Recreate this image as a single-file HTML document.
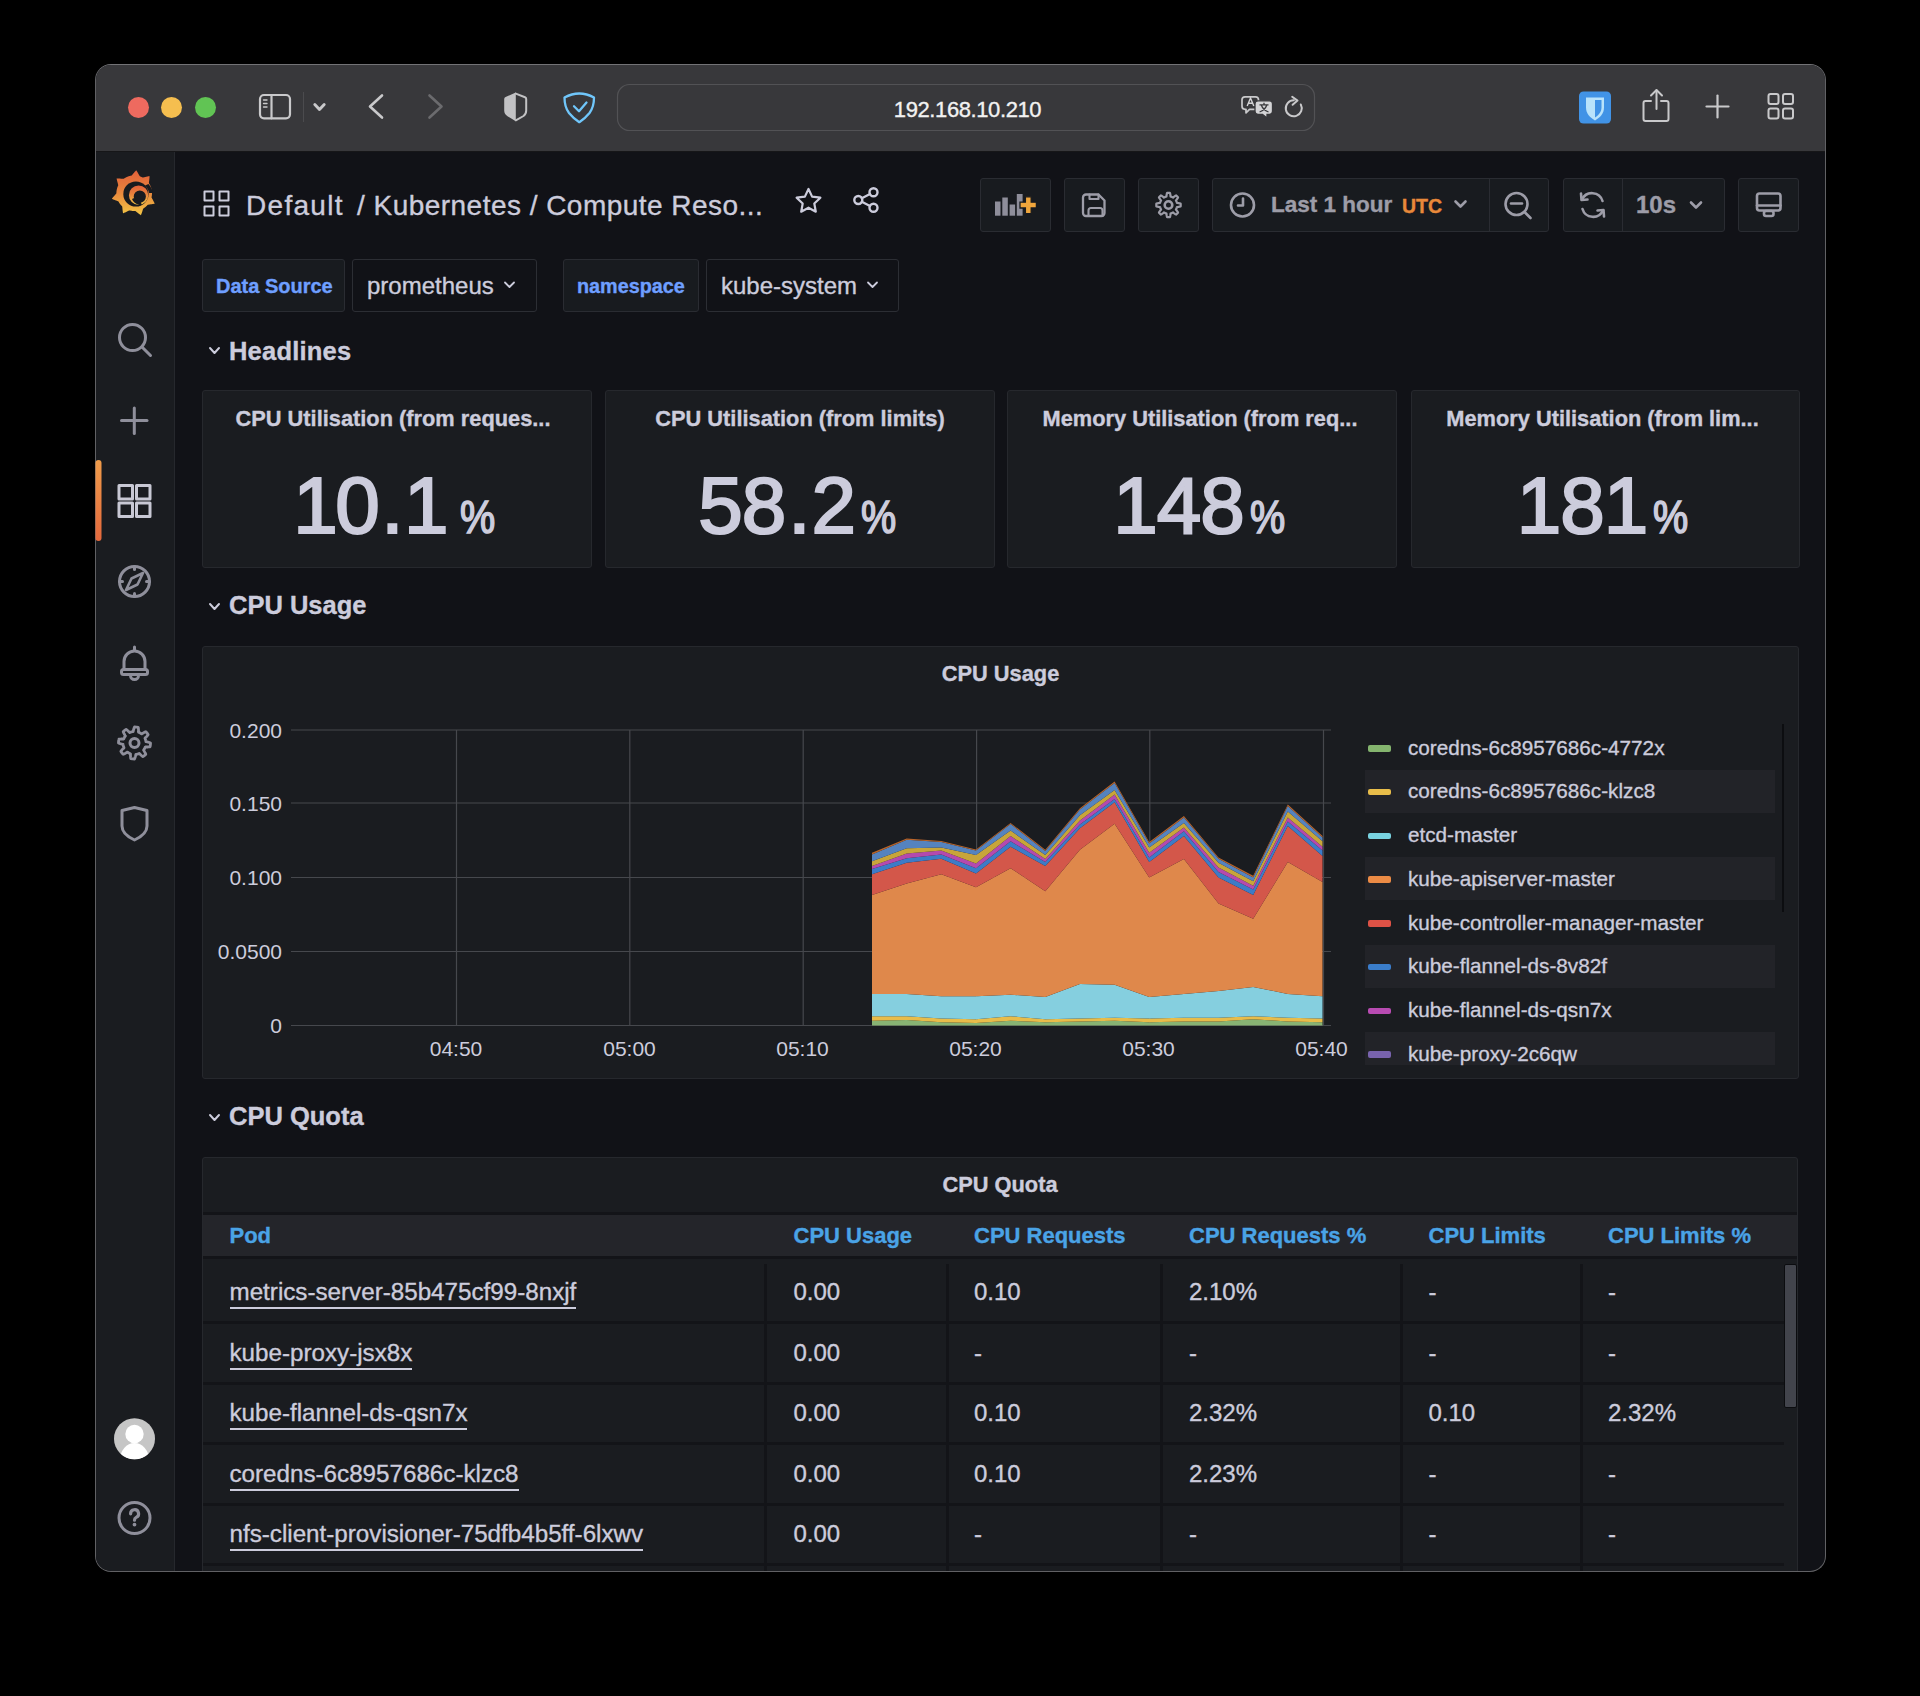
<!DOCTYPE html>
<html><head><meta charset="utf-8">
<style>
*{box-sizing:border-box;margin:0;padding:0}
html,body{width:1920px;height:1696px;background:#000;overflow:hidden;font-family:"Liberation Sans",sans-serif;color:#ccccdc;-webkit-text-stroke:0.35px currentColor}
.a{position:absolute}
#win{position:absolute;left:95px;top:64px;width:1731px;height:1508px;border-radius:16px;overflow:hidden;background:#111217;border:1px solid #616164;border-top-color:#737376}
#tb{position:absolute;left:0;top:0;width:100%;height:87px;background:#38383b;border-bottom:1px solid #161618}
.dot{position:absolute;width:21px;height:21px;border-radius:50%;top:32px}
#side{position:absolute;left:0;top:87px;width:79px;height:1420px;background:#1a1c20;border-right:1px solid #26282d}
#main{position:absolute;left:79px;top:87px;right:0;bottom:0;background:#111217}
.btn{position:absolute;top:178px;height:54px;background:#181b1f;border:1px solid #2a2c32;border-radius:3px}
.panel{position:absolute;background:#1a1c20;border:1px solid #26282d;border-radius:3px}
.ptitle{position:absolute;left:0;right:0;text-align:center;font-weight:bold;font-size:21.8px;color:#ccccdc;white-space:nowrap}
.stat{position:absolute;left:0;right:0;text-align:center;font-weight:bold;color:#ccccdc;white-space:nowrap}
.rowh{position:absolute;left:208px;font-weight:bold;font-size:26px;color:#ccccdc}
.sv{font-size:80px;font-weight:normal;-webkit-text-stroke:2.2px #ccccdc;letter-spacing:-2.5px}
.sp{display:inline-block;font-size:46px;font-weight:normal;-webkit-text-stroke:1.6px #ccccdc;transform:scaleX(0.86);transform-origin:left;margin-left:6px}
.svgi{position:absolute;overflow:visible}
</style></head><body>
<div id="win">
 <div id="tb">
  <div class="dot" style="left:31.5px;background:#ee6a5f"></div>
  <div class="dot" style="left:65px;background:#f5be4f"></div>
  <div class="dot" style="left:99px;background:#61c454"></div>
 </div>
 <div id="side"></div>
</div>

<svg class="a" style="left:0;top:0" width="1920" height="1696" viewBox="0 0 1920 1696">
 <g fill="none" stroke="#c9c9cb" stroke-width="2.2" stroke-linecap="round" stroke-linejoin="round">
  <rect x="260" y="95" width="30" height="23.3" rx="4"/>
  <line x1="271.5" y1="95" x2="271.5" y2="118.3"/>
  <line x1="263.5" y1="100" x2="267" y2="100" stroke-width="1.4"/>
  <line x1="263.5" y1="103.5" x2="267" y2="103.5" stroke-width="1.4"/>
  <line x1="263.5" y1="107" x2="267" y2="107" stroke-width="1.4"/>
  <polyline points="314.8,104.5 319.5,109.5 324.2,104.5" stroke-width="2.9"/>
  <polyline points="382,95.5 370,106.5 382,117.5" stroke-width="2.6"/>
  <polyline points="429.5,95.5 441.5,106.5 429.5,117.5" stroke="#6b6b6e" stroke-width="2.6"/>
  <path d="M515.8,93.6 L525,97.3 Q526.2,97.8 526.2,99 L526.2,110.5 Q526.2,114 523.5,116 L515.8,120.3" stroke="#c2c2c4" stroke-width="2"/>
  <path d="M564.5,97.5 Q579.3,89.5 594,97.5 Q594,107 589.5,113 Q585.5,118 579.3,122.2 Q573,118 569,113 Q564.5,107 564.5,97.5 Z" stroke="#70c6fa" stroke-width="2.3"/>
  <polyline points="574,106.2 579,111.2 586.5,102.5" stroke="#70c6fa" stroke-width="2.3"/>
 </g>
 <path d="M515.8,92.6 L515.8,121.2 L507.5,116.3 Q504.2,114 504.2,110.5 L504.2,99 Q504.2,97.6 505.6,97 Z" fill="#c2c2c4"/>
 <line x1="303.5" y1="92" x2="303.5" y2="122" stroke="#4b4b4e" stroke-width="1"/>
 <rect x="617.5" y="84.5" width="697" height="46" rx="12" fill="none" stroke="#525255" stroke-width="1.2"/>
</svg>

<svg class="a" style="left:0;top:0" width="1920" height="1696" viewBox="0 0 1920 1696">
 <g fill="none" stroke="#c9c9cb" stroke-width="2.2" stroke-linecap="round" stroke-linejoin="round">
  <!-- translate -->
  <path d="M1245,96.8 h10.5 a3,3 0 0 1 3,3 v6.5 a3,3 0 0 1 -3,3 h-6 l-3.5,3.5 v-3.5 h-1 a3,3 0 0 1 -3,-3 v-6.5 a3,3 0 0 1 3,-3 z" stroke-width="1.7"/>
  <path d="M1300.8,104.5 A8,8 0 1 1 1293.8,100.3" stroke-width="2"/>
  <polyline points="1292.2,96.8 1297.5,100.6 1292.6,104.8" stroke-width="2"/>
  <!-- share -->
  <path d="M1651,101 h-5.5 a2,2 0 0 0 -2,2 v16 a2,2 0 0 0 2,2 h21 a2,2 0 0 0 2,-2 v-16 a2,2 0 0 0 -2,-2 h-5.5" stroke-width="2"/>
  <line x1="1656.5" y1="90.5" x2="1656.5" y2="109" stroke-width="2"/>
  <polyline points="1651,95.5 1656.5,90 1662,95.5" stroke-width="2"/>
  <!-- plus -->
  <line x1="1717.5" y1="95.5" x2="1717.5" y2="117.5" stroke-width="2.2"/>
  <line x1="1706.5" y1="106.5" x2="1728.5" y2="106.5" stroke-width="2.2"/>
  <!-- grid -->
  <rect x="1768.5" y="94" width="10" height="10" rx="2" stroke-width="2"/>
  <rect x="1783" y="94" width="10" height="10" rx="2" stroke-width="2"/>
  <rect x="1768.5" y="108.5" width="10" height="10" rx="2" stroke-width="2"/>
  <rect x="1783" y="108.5" width="10" height="10" rx="2" stroke-width="2"/>
 </g>
 <path d="M1258,100.8 h11.5 a3,3 0 0 1 3,3 v7.5 a3,3 0 0 1 -3,3 h-2.5 v3.8 l-4.5,-3.8 h-4.5 a3,3 0 0 1 -3,-3 v-7.5 a3,3 0 0 1 3,-3 z" fill="#d4d4d6" stroke="#38383b" stroke-width="1.3"/>
 <path d="M1247.2,106 l3.3,-8 l3.3,8 M1248.4,103.3 h4.2" fill="none" stroke="#d4d4d6" stroke-width="1.4"/>
 <path d="M1264,102.8 v1.8 M1259.5,104.8 h9 M1261.3,105 c1,3 3.5,5.5 7.2,7 M1266.8,105 c-1,3 -3.5,5.5 -7.2,7" fill="none" stroke="#38383b" stroke-width="1.3"/>
 <!-- bitwarden -->
 <rect x="1579" y="91.5" width="32" height="32" rx="4.5" fill="#4193e6"/>
 <path d="M1586,97.5 h18 v10 c0,6 -4,10 -9,13 c-5,-3 -9,-7 -9,-13 z" fill="#b9e3fb"/>
 <path d="M1595,100 h6.5 v7.5 c0,4 -2.5,7.5 -6.5,10 z" fill="#4193e6"/>
</svg>

<svg class="a" style="left:0;top:0" width="1920" height="1696" viewBox="0 0 1920 1696">
 <defs>
  <linearGradient id="glg" x1="0" y1="0" x2="0" y2="1">
   <stop offset="0" stop-color="#e2603a"/><stop offset="0.45" stop-color="#e7823c"/><stop offset="1" stop-color="#f3c545"/>
  </linearGradient>
  <linearGradient id="act" x1="0" y1="0" x2="0" y2="1">
   <stop offset="0" stop-color="#f09c4a"/><stop offset="1" stop-color="#e4683c"/>
  </linearGradient>
 </defs>
 <!-- grafana logo -->
<g id="glogo2">
 <path fill="url(#glg)" d="M116.40,193.20 L116.40,193.04 L116.40,192.89 L116.41,192.73 L116.41,192.58 L116.42,192.42 L116.42,192.27 L116.43,192.11 L116.44,191.96 L116.45,191.80 L116.47,191.65 L116.48,191.49 L116.50,191.34 L116.51,191.18 L116.53,191.03 L116.55,190.88 L116.57,190.72 L116.60,190.57 L116.62,190.42 L116.64,190.26 L116.67,190.11 L116.70,189.96 L116.73,189.80 L116.76,189.65 L116.79,189.50 L116.82,189.35 L116.86,189.20 L116.89,189.04 L116.93,188.89 L116.97,188.74 L117.01,188.59 L117.05,188.44 L117.09,188.29 L117.13,188.14 L117.18,188.00 L117.22,187.85 L117.27,187.70 L117.32,187.55 L117.37,187.40 L117.42,187.26 L117.47,187.11 L117.53,186.97 L117.58,186.82 L117.64,186.68 L117.70,186.53 L117.75,186.39 L117.82,186.24 L117.88,186.10 L117.94,185.96 L118.00,185.82 L118.07,185.68 L118.13,185.54 L118.20,185.40 L118.21,185.23 L118.19,185.04 L118.16,184.85 L118.12,184.65 L118.07,184.44 L118.02,184.23 L117.96,184.01 L117.90,183.79 L117.84,183.56 L117.77,183.33 L117.71,183.09 L117.64,182.85 L117.57,182.61 L117.50,182.36 L117.43,182.10 L117.36,181.84 L117.29,181.58 L117.22,181.31 L117.15,181.04 L117.08,180.76 L117.02,180.48 L116.95,180.20 L116.88,179.91 L116.82,179.62 L116.76,179.33 L116.70,179.03 L116.64,178.72 L116.58,178.42 L116.89,178.42 L117.20,178.42 L117.51,178.43 L117.81,178.44 L118.11,178.45 L118.40,178.47 L118.69,178.48 L118.98,178.50 L119.26,178.52 L119.54,178.54 L119.82,178.57 L120.09,178.59 L120.36,178.61 L120.62,178.64 L120.88,178.66 L121.13,178.69 L121.38,178.71 L121.63,178.74 L121.87,178.76 L122.10,178.78 L122.33,178.80 L122.56,178.82 L122.77,178.84 L122.99,178.85 L123.19,178.85 L123.39,178.85 L123.57,178.84 L123.74,178.80 L123.86,178.71 L123.99,178.62 L124.12,178.53 L124.25,178.44 L124.38,178.36 L124.51,178.27 L124.64,178.19 L124.77,178.10 L124.90,178.02 L125.03,177.94 L125.17,177.86 L125.30,177.78 L125.43,177.71 L125.57,177.63 L125.71,177.56 L125.84,177.48 L125.98,177.41 L126.12,177.34 L126.26,177.27 L126.40,177.20 L126.54,177.13 L126.68,177.07 L126.82,177.00 L126.96,176.94 L127.10,176.88 L127.24,176.82 L127.39,176.75 L127.53,176.70 L127.68,176.64 L127.82,176.58 L127.97,176.53 L128.11,176.47 L128.26,176.42 L128.40,176.37 L128.55,176.32 L128.70,176.27 L128.85,176.22 L129.00,176.18 L129.14,176.13 L129.29,176.09 L129.44,176.05 L129.59,176.01 L129.74,175.97 L129.89,175.93 L130.04,175.89 L130.20,175.86 L130.35,175.82 L130.50,175.79 L130.65,175.76 L130.80,175.73 L130.96,175.70 L131.11,175.67 L131.26,175.64 L131.42,175.62 L131.56,175.53 L131.70,175.41 L131.84,175.27 L131.98,175.12 L132.12,174.96 L132.27,174.80 L132.41,174.63 L132.56,174.45 L132.71,174.27 L132.86,174.08 L133.02,173.89 L133.18,173.70 L133.34,173.50 L133.51,173.30 L133.67,173.10 L133.85,172.89 L134.02,172.68 L134.20,172.47 L134.38,172.26 L134.57,172.05 L134.76,171.83 L134.95,171.61 L135.15,171.39 L135.35,171.17 L135.56,170.95 L135.77,170.73 L135.99,170.51 L136.20,170.29 L136.38,170.54 L136.55,170.80 L136.72,171.06 L136.89,171.31 L137.05,171.56 L137.21,171.81 L137.36,172.06 L137.51,172.30 L137.66,172.55 L137.80,172.79 L137.94,173.03 L138.08,173.26 L138.21,173.49 L138.34,173.72 L138.47,173.95 L138.59,174.17 L138.72,174.39 L138.84,174.61 L138.95,174.82 L139.07,175.02 L139.19,175.22 L139.30,175.41 L139.41,175.60 L139.53,175.78 L139.64,175.95 L139.75,176.11 L139.87,176.26 L140.00,176.37 L140.14,176.42 L140.29,176.47 L140.43,176.53 L140.58,176.58 L140.72,176.64 L140.87,176.70 L141.01,176.75 L141.16,176.82 L141.30,176.88 L141.44,176.94 L141.58,177.00 L141.72,177.07 L141.86,177.13 L142.00,177.20 L142.14,177.27 L142.28,177.34 L142.42,177.41 L142.56,177.48 L142.73,177.50 L142.91,177.48 L143.11,177.46 L143.31,177.43 L143.52,177.39 L143.73,177.34 L143.95,177.29 L144.17,177.24 L144.40,177.18 L144.64,177.13 L144.88,177.07 L145.12,177.01 L145.37,176.95 L145.62,176.89 L145.88,176.83 L146.14,176.77 L146.40,176.71 L146.67,176.65 L146.95,176.59 L147.23,176.53 L147.51,176.47 L147.79,176.41 L148.08,176.36 L148.38,176.30 L148.67,176.25 L148.98,176.20 L149.28,176.15 L149.59,176.11 L149.58,176.42 L149.56,176.73 L149.54,177.03 L149.52,177.33 L149.50,177.63 L149.47,177.93 L149.45,178.22 L149.42,178.50 L149.39,178.79 L149.36,179.06 L149.33,179.34 L149.29,179.61 L149.26,179.87 L149.23,180.14 L149.19,180.39 L149.16,180.65 L149.13,180.90 L149.09,181.14 L149.06,181.38 L149.03,181.61 L149.00,181.84 L148.98,182.07 L148.95,182.28 L148.94,182.49 L148.92,182.70 L148.92,182.89 L148.93,183.08 L148.96,183.25 L149.04,183.38 L149.13,183.51 L149.21,183.64 L149.30,183.77 L149.38,183.90 L149.46,184.03 L149.54,184.17 L149.62,184.30 L149.69,184.43 L149.77,184.57 L149.84,184.71 L149.92,184.84 L149.99,184.98 L150.06,185.12 L150.13,185.26 L150.20,185.40 L150.27,185.54 L150.33,185.68 L150.40,185.82 L150.46,185.96 L150.52,186.10 L150.58,186.24 L150.65,186.39 L150.70,186.53 L150.76,186.68 L150.82,186.82 L150.87,186.97 L150.93,187.11 L150.98,187.26 L151.03,187.40 L151.08,187.55 L151.13,187.70 L151.18,187.85 L151.22,188.00 L151.27,188.14 L151.31,188.29 L151.35,188.44 L151.39,188.59 L151.43,188.74 L151.47,188.89 L151.51,189.04 L151.54,189.20 L151.58,189.35 L151.61,189.50 L151.64,189.65 L151.67,189.80 L151.70,189.96 L151.73,190.11 L151.76,190.26 L151.78,190.42 L151.80,190.57 L151.83,190.72 L151.85,190.88 L151.87,191.03 L151.89,191.18 L151.90,191.34 L151.92,191.49 L151.93,191.65 L151.95,191.80 L151.96,191.96 L151.97,192.11 L151.98,192.27 L151.98,192.42 L151.99,192.58 L151.99,192.73 L152.00,192.89 L152.00,193.04 L152.00,193.20 L152.00,193.36 L152.00,193.51 L151.99,193.67 L151.99,193.82 L151.98,193.98 L151.98,194.13 L151.97,194.29 L151.96,194.44 L151.95,194.60 L151.93,194.75 L151.92,194.91 L151.90,195.06 L151.89,195.22 L151.87,195.37 L151.85,195.52 L151.83,195.68 L151.80,195.83 L151.78,195.98 L151.76,196.14 L151.73,196.29 L151.70,196.44 L151.67,196.60 L151.64,196.75 L151.61,196.90 L151.58,197.05 L151.54,197.20 L151.57,197.37 L151.63,197.55 L151.71,197.73 L151.79,197.91 L151.89,198.10 L151.99,198.30 L152.09,198.50 L152.20,198.70 L152.31,198.91 L152.43,199.12 L152.54,199.34 L152.66,199.56 L152.79,199.78 L152.91,200.01 L153.04,200.24 L153.16,200.48 L153.29,200.72 L153.42,200.96 L153.55,201.21 L153.68,201.47 L153.80,201.72 L153.93,201.99 L154.06,202.25 L154.19,202.52 L154.32,202.80 L154.44,203.07 L154.57,203.36 L154.69,203.64 L154.39,203.71 L154.09,203.77 L153.79,203.83 L153.49,203.89 L153.20,203.95 L152.91,204.00 L152.62,204.05 L152.34,204.10 L152.06,204.14 L151.78,204.18 L151.50,204.22 L151.24,204.26 L150.97,204.30 L150.71,204.33 L150.45,204.37 L150.20,204.40 L149.95,204.43 L149.70,204.46 L149.46,204.50 L149.23,204.53 L149.00,204.56 L148.78,204.59 L148.56,204.63 L148.36,204.66 L148.15,204.70 L147.96,204.75 L147.79,204.80 L147.63,204.88 L147.53,204.99 L147.43,205.11 L147.32,205.23 L147.22,205.34 L147.11,205.45 L147.00,205.56 L146.90,205.68 L146.79,205.79 L146.68,205.90 L146.56,206.00 L146.45,206.11 L146.34,206.22 L146.23,206.32 L146.11,206.43 L145.99,206.53 L145.88,206.63 L145.76,206.74 L145.64,206.84 L145.52,206.93 L145.40,207.03 L145.28,207.13 L145.16,207.23 L145.04,207.32 L144.91,207.42 L144.79,207.51 L144.66,207.60 L144.54,207.69 L144.41,207.78 L144.28,207.87 L144.15,207.96 L144.02,208.04 L143.89,208.13 L143.76,208.21 L143.63,208.30 L143.50,208.38 L143.37,208.46 L143.27,208.60 L143.18,208.76 L143.11,208.94 L143.03,209.13 L142.96,209.33 L142.89,209.54 L142.82,209.75 L142.74,209.97 L142.67,210.19 L142.60,210.42 L142.53,210.66 L142.45,210.90 L142.38,211.14 L142.30,211.39 L142.22,211.64 L142.14,211.90 L142.05,212.16 L141.96,212.42 L141.87,212.68 L141.78,212.95 L141.69,213.22 L141.59,213.50 L141.49,213.77 L141.38,214.05 L141.27,214.34 L141.16,214.62 L141.04,214.91 L140.92,215.20 L140.66,215.02 L140.41,214.85 L140.16,214.68 L139.91,214.50 L139.66,214.33 L139.43,214.16 L139.19,213.99 L138.96,213.82 L138.73,213.64 L138.51,213.47 L138.29,213.31 L138.08,213.14 L137.86,212.97 L137.66,212.81 L137.45,212.65 L137.25,212.49 L137.06,212.33 L136.87,212.18 L136.68,212.03 L136.49,211.88 L136.31,211.74 L136.13,211.60 L135.96,211.47 L135.79,211.35 L135.62,211.23 L135.45,211.12 L135.29,211.04 L135.13,210.98 L134.98,210.98 L134.82,210.99 L134.67,210.99 L134.51,211.00 L134.36,211.00 L134.20,211.00 L134.04,211.00 L133.89,211.00 L133.73,210.99 L133.58,210.99 L133.42,210.98 L133.27,210.98 L133.11,210.97 L132.96,210.96 L132.80,210.95 L132.65,210.93 L132.49,210.92 L132.34,210.90 L132.18,210.89 L132.03,210.87 L131.88,210.85 L131.72,210.83 L131.57,210.80 L131.42,210.78 L131.26,210.76 L131.11,210.73 L130.96,210.70 L130.80,210.67 L130.65,210.64 L130.50,210.61 L130.35,210.58 L130.20,210.54 L130.04,210.51 L129.89,210.47 L129.74,210.43 L129.59,210.39 L129.42,210.42 L129.25,210.47 L129.06,210.54 L128.87,210.62 L128.68,210.70 L128.48,210.80 L128.28,210.89 L128.07,210.99 L127.86,211.10 L127.65,211.21 L127.43,211.32 L127.20,211.43 L126.97,211.55 L126.74,211.66 L126.50,211.78 L126.26,211.90 L126.02,212.02 L125.77,212.14 L125.52,212.26 L125.26,212.38 L125.00,212.50 L124.73,212.61 L124.46,212.73 L124.19,212.85 L123.91,212.97 L123.63,213.09 L123.34,213.20 L123.05,213.32 L122.99,213.01 L122.94,212.70 L122.89,212.40 L122.84,212.11 L122.80,211.81 L122.75,211.52 L122.71,211.23 L122.68,210.94 L122.64,210.66 L122.61,210.38 L122.58,210.11 L122.55,209.84 L122.52,209.57 L122.50,209.31 L122.47,209.05 L122.45,208.80 L122.42,208.55 L122.40,208.30 L122.38,208.06 L122.36,207.83 L122.33,207.60 L122.31,207.37 L122.28,207.16 L122.25,206.95 L122.22,206.74 L122.18,206.55 L122.13,206.37 L122.06,206.22 L121.95,206.11 L121.84,206.00 L121.72,205.90 L121.61,205.79 L121.50,205.68 L121.40,205.56 L121.29,205.45 L121.18,205.34 L121.08,205.23 L120.97,205.11 L120.87,204.99 L120.77,204.88 L120.66,204.76 L120.56,204.64 L120.47,204.52 L120.37,204.40 L120.27,204.28 L120.17,204.16 L120.08,204.04 L119.98,203.91 L119.89,203.79 L119.80,203.66 L119.71,203.54 L119.62,203.41 L119.53,203.28 L119.44,203.15 L119.36,203.02 L119.27,202.89 L119.19,202.76 L119.10,202.63 L119.02,202.50 L118.94,202.37 L118.86,202.23 L118.78,202.10 L118.71,201.97 L118.63,201.83 L118.56,201.69 L118.48,201.56 L118.35,201.45 L118.19,201.36 L118.02,201.27 L117.83,201.18 L117.63,201.10 L117.43,201.02 L117.22,200.94 L117.01,200.85 L116.79,200.77 L116.56,200.69 L116.33,200.60 L116.09,200.52 L115.85,200.43 L115.61,200.34 L115.36,200.24 L115.11,200.15 L114.86,200.05 L114.60,199.95 L114.34,199.84 L114.08,199.74 L113.81,199.63 L113.54,199.52 L113.27,199.40 L113.00,199.28 L112.72,199.16 L112.45,199.03 L112.17,198.90 L111.88,198.76 L112.07,198.51 L112.25,198.27 L112.44,198.02 L112.63,197.79 L112.81,197.55 L113.00,197.32 L113.18,197.10 L113.36,196.87 L113.55,196.66 L113.73,196.44 L113.91,196.23 L114.09,196.03 L114.26,195.82 L114.44,195.63 L114.61,195.43 L114.78,195.24 L114.95,195.05 L115.11,194.87 L115.27,194.69 L115.43,194.51 L115.58,194.34 L115.72,194.17 L115.86,194.00 L116.00,193.84 L116.12,193.67 L116.23,193.51 L116.33,193.36 Z"/>
 <circle cx="135.9" cy="194" r="12.6" fill="#181b1f"/>
 <path d="M148.5,184 C151,187 152.5,190 153,193 L149,193 C148.5,190 147,187.5 145,185.5 Z" fill="#181b1f"/>
 <path fill-rule="evenodd" fill="url(#glg)" d="M148.3,195.2 A9.7,9.7 0 1 1 128.9,195.2 A9.7,9.7 0 1 1 148.3,195.2 Z M145.9,196.6 A6.1,6.1 0 1 0 133.7,196.6 A6.1,6.1 0 1 0 145.9,196.6 Z"/>
 <path d="M132,199 C134,203.5 138,205.2 141.5,205 L141,201.5 C138.5,201.8 135.5,200.5 134.2,198 Z" fill="#181b1f"/>
 </g>
 <g fill="none" stroke="#8f8f9b" stroke-width="3" stroke-linecap="round" stroke-linejoin="round">
  <circle cx="132.5" cy="337.5" r="13"/>
  <line x1="142" y1="347" x2="150.5" y2="355.5"/>
  <line x1="121.5" y1="420.5" x2="147" y2="420.5"/>
  <line x1="134.3" y1="408" x2="134.3" y2="433.5"/>
  <g stroke="#c8c8d4">
   <rect x="119" y="485.5" width="13.5" height="13.5"/>
   <rect x="136.5" y="485.5" width="13.5" height="13.5"/>
   <rect x="119" y="503" width="13.5" height="13.5"/>
   <rect x="136.5" y="503" width="13.5" height="13.5"/>
  </g>
  <circle cx="134.5" cy="581.5" r="15"/>
  <line x1="134.5" y1="566.5" x2="134.5" y2="569.5"/>
  <line x1="134.5" y1="593.5" x2="134.5" y2="596.5"/>
  <line x1="119.5" y1="581.5" x2="122.5" y2="581.5"/>
  <line x1="146.5" y1="581.5" x2="149.5" y2="581.5"/>
  <path d="M143,573 L137.5,584.5 L126,590 L131.5,578.5 Z" stroke-width="2.6"/>
  <path d="M124,669.5 v-8 a10.5,10.5 0 0 1 21,0 v8" />
  <rect x="121.5" y="669.5" width="26" height="5" rx="2"/>
  <line x1="134.5" y1="647" x2="134.5" y2="650"/>
  <path d="M130.5,675.5 a4,4 0 0 0 8,0"/>
  <path d="M122,810.5 L134.5,807.5 L147,810.5 L147,826 C147,832 141,837 134.5,840 C128,837 122,832 122,826 Z"/>
  <circle cx="134.5" cy="1518" r="15.5"/>
 </g>
 <path id="gear1" fill="none" stroke="#8f8f9b" stroke-width="2.8" stroke-linejoin="round" d="M150.50,743.00 L150.50,743.14 L150.50,743.28 L150.49,743.42 L150.49,743.56 L150.48,743.70 L150.48,743.84 L150.47,743.98 L150.46,744.12 L150.45,744.26 L150.44,744.39 L150.43,744.53 L150.41,744.67 L150.40,744.81 L150.38,744.95 L150.36,745.09 L150.34,745.23 L150.32,745.36 L150.30,745.50 L150.28,745.64 L150.26,745.78 L150.23,745.92 L150.21,746.05 L150.18,746.19 L150.15,746.33 L150.12,746.46 L150.09,746.60 L150.06,746.74 L149.70,746.79 L149.34,746.84 L148.99,746.88 L148.63,746.92 L148.28,746.95 L147.92,746.98 L147.57,747.00 L147.22,747.01 L146.86,747.02 L146.51,747.02 L146.16,747.02 L145.81,747.01 L145.46,746.99 L145.27,747.03 L145.24,747.12 L145.20,747.21 L145.16,747.31 L145.12,747.40 L145.09,747.49 L145.05,747.59 L145.01,747.68 L144.96,747.77 L144.92,747.86 L144.88,747.95 L144.84,748.04 L144.79,748.13 L144.75,748.22 L144.70,748.31 L144.65,748.40 L144.61,748.49 L144.56,748.58 L144.51,748.66 L144.46,748.75 L144.41,748.84 L144.36,748.92 L144.31,749.01 L144.25,749.09 L144.20,749.18 L144.14,749.26 L144.09,749.35 L144.03,749.43 L143.98,749.51 L143.92,749.60 L143.86,749.68 L143.80,749.76 L143.74,749.84 L143.68,749.92 L143.62,750.00 L143.56,750.08 L143.63,750.26 L143.83,750.55 L144.02,750.84 L144.20,751.14 L144.39,751.44 L144.56,751.75 L144.74,752.06 L144.90,752.37 L145.07,752.68 L145.23,753.00 L145.38,753.33 L145.53,753.65 L145.67,753.98 L145.81,754.31 L145.71,754.41 L145.61,754.51 L145.51,754.61 L145.41,754.70 L145.31,754.80 L145.21,754.89 L145.10,754.98 L145.00,755.08 L144.89,755.17 L144.78,755.26 L144.68,755.35 L144.57,755.43 L144.46,755.52 L144.35,755.61 L144.24,755.69 L144.13,755.78 L144.02,755.86 L143.90,755.94 L143.79,756.03 L143.68,756.11 L143.56,756.19 L143.45,756.26 L143.33,756.34 L143.21,756.42 L143.10,756.49 L142.98,756.57 L142.86,756.64 L142.57,756.43 L142.28,756.21 L142.00,755.99 L141.72,755.77 L141.45,755.54 L141.18,755.30 L140.92,755.07 L140.66,754.83 L140.40,754.58 L140.15,754.34 L139.91,754.09 L139.67,753.83 L139.43,753.57 L139.27,753.46 L139.18,753.51 L139.09,753.55 L138.99,753.59 L138.90,753.62 L138.81,753.66 L138.71,753.70 L138.62,753.74 L138.53,753.77 L138.43,753.81 L138.34,753.84 L138.24,753.87 L138.15,753.91 L138.05,753.94 L137.96,753.97 L137.86,754.00 L137.77,754.03 L137.67,754.05 L137.57,754.08 L137.48,754.11 L137.38,754.13 L137.28,754.16 L137.18,754.18 L137.09,754.21 L136.99,754.23 L136.89,754.25 L136.79,754.27 L136.69,754.29 L136.60,754.31 L136.50,754.33 L136.40,754.34 L136.30,754.36 L136.20,754.37 L136.10,754.39 L136.00,754.40 L135.90,754.41 L135.82,754.59 L135.75,754.93 L135.68,755.28 L135.60,755.62 L135.52,755.96 L135.43,756.30 L135.33,756.64 L135.23,756.98 L135.13,757.32 L135.01,757.66 L134.89,757.99 L134.77,758.33 L134.64,758.67 L134.50,759.00 L134.36,759.00 L134.22,759.00 L134.08,758.99 L133.94,758.99 L133.80,758.98 L133.66,758.98 L133.52,758.97 L133.38,758.96 L133.24,758.95 L133.11,758.94 L132.97,758.93 L132.83,758.91 L132.69,758.90 L132.55,758.88 L132.41,758.86 L132.27,758.84 L132.14,758.82 L132.00,758.80 L131.86,758.78 L131.72,758.76 L131.58,758.73 L131.45,758.71 L131.31,758.68 L131.17,758.65 L131.04,758.62 L130.90,758.59 L130.76,758.56 L130.71,758.20 L130.66,757.84 L130.62,757.49 L130.58,757.13 L130.55,756.78 L130.52,756.42 L130.50,756.07 L130.49,755.72 L130.48,755.36 L130.48,755.01 L130.48,754.66 L130.49,754.31 L130.51,753.96 L130.47,753.77 L130.38,753.74 L130.29,753.70 L130.19,753.66 L130.10,753.62 L130.01,753.59 L129.91,753.55 L129.82,753.51 L129.73,753.46 L129.64,753.42 L129.55,753.38 L129.46,753.34 L129.37,753.29 L129.28,753.25 L129.19,753.20 L129.10,753.15 L129.01,753.11 L128.92,753.06 L128.84,753.01 L128.75,752.96 L128.66,752.91 L128.58,752.86 L128.49,752.81 L128.41,752.75 L128.32,752.70 L128.24,752.64 L128.15,752.59 L128.07,752.53 L127.99,752.48 L127.90,752.42 L127.82,752.36 L127.74,752.30 L127.66,752.24 L127.58,752.18 L127.50,752.12 L127.42,752.06 L127.24,752.13 L126.95,752.33 L126.66,752.52 L126.36,752.70 L126.06,752.89 L125.75,753.06 L125.44,753.24 L125.13,753.40 L124.82,753.57 L124.50,753.73 L124.17,753.88 L123.85,754.03 L123.52,754.17 L123.19,754.31 L123.09,754.21 L122.99,754.11 L122.89,754.01 L122.80,753.91 L122.70,753.81 L122.61,753.71 L122.52,753.60 L122.42,753.50 L122.33,753.39 L122.24,753.28 L122.15,753.18 L122.07,753.07 L121.98,752.96 L121.89,752.85 L121.81,752.74 L121.72,752.63 L121.64,752.52 L121.56,752.40 L121.47,752.29 L121.39,752.18 L121.31,752.06 L121.24,751.95 L121.16,751.83 L121.08,751.71 L121.01,751.60 L120.93,751.48 L120.86,751.36 L121.07,751.07 L121.29,750.78 L121.51,750.50 L121.73,750.22 L121.96,749.95 L122.20,749.68 L122.43,749.42 L122.67,749.16 L122.92,748.90 L123.16,748.65 L123.41,748.41 L123.67,748.17 L123.93,747.93 L124.04,747.77 L123.99,747.68 L123.95,747.59 L123.91,747.49 L123.88,747.40 L123.84,747.31 L123.80,747.21 L123.76,747.12 L123.73,747.03 L123.69,746.93 L123.66,746.84 L123.63,746.74 L123.59,746.65 L123.56,746.55 L123.53,746.46 L123.50,746.36 L123.47,746.27 L123.45,746.17 L123.42,746.07 L123.39,745.98 L123.37,745.88 L123.34,745.78 L123.32,745.68 L123.29,745.59 L123.27,745.49 L123.25,745.39 L123.23,745.29 L123.21,745.19 L123.19,745.10 L123.17,745.00 L123.16,744.90 L123.14,744.80 L123.13,744.70 L123.11,744.60 L123.10,744.50 L123.09,744.40 L122.91,744.32 L122.57,744.25 L122.22,744.18 L121.88,744.10 L121.54,744.02 L121.20,743.93 L120.86,743.83 L120.52,743.73 L120.18,743.63 L119.84,743.51 L119.51,743.39 L119.17,743.27 L118.83,743.14 L118.50,743.00 L118.50,742.86 L118.50,742.72 L118.51,742.58 L118.51,742.44 L118.52,742.30 L118.52,742.16 L118.53,742.02 L118.54,741.88 L118.55,741.74 L118.56,741.61 L118.57,741.47 L118.59,741.33 L118.60,741.19 L118.62,741.05 L118.64,740.91 L118.66,740.77 L118.68,740.64 L118.70,740.50 L118.72,740.36 L118.74,740.22 L118.77,740.08 L118.79,739.95 L118.82,739.81 L118.85,739.67 L118.88,739.54 L118.91,739.40 L118.94,739.26 L119.30,739.21 L119.66,739.16 L120.01,739.12 L120.37,739.08 L120.72,739.05 L121.08,739.02 L121.43,739.00 L121.78,738.99 L122.14,738.98 L122.49,738.98 L122.84,738.98 L123.19,738.99 L123.54,739.01 L123.73,738.97 L123.76,738.88 L123.80,738.79 L123.84,738.69 L123.88,738.60 L123.91,738.51 L123.95,738.41 L123.99,738.32 L124.04,738.23 L124.08,738.14 L124.12,738.05 L124.16,737.96 L124.21,737.87 L124.25,737.78 L124.30,737.69 L124.35,737.60 L124.39,737.51 L124.44,737.42 L124.49,737.34 L124.54,737.25 L124.59,737.16 L124.64,737.08 L124.69,736.99 L124.75,736.91 L124.80,736.82 L124.86,736.74 L124.91,736.65 L124.97,736.57 L125.02,736.49 L125.08,736.40 L125.14,736.32 L125.20,736.24 L125.26,736.16 L125.32,736.08 L125.38,736.00 L125.44,735.92 L125.37,735.74 L125.17,735.45 L124.98,735.16 L124.80,734.86 L124.61,734.56 L124.44,734.25 L124.26,733.94 L124.10,733.63 L123.93,733.32 L123.77,733.00 L123.62,732.67 L123.47,732.35 L123.33,732.02 L123.19,731.69 L123.29,731.59 L123.39,731.49 L123.49,731.39 L123.59,731.30 L123.69,731.20 L123.79,731.11 L123.90,731.02 L124.00,730.92 L124.11,730.83 L124.22,730.74 L124.32,730.65 L124.43,730.57 L124.54,730.48 L124.65,730.39 L124.76,730.31 L124.87,730.22 L124.98,730.14 L125.10,730.06 L125.21,729.97 L125.32,729.89 L125.44,729.81 L125.55,729.74 L125.67,729.66 L125.79,729.58 L125.90,729.51 L126.02,729.43 L126.14,729.36 L126.43,729.57 L126.72,729.79 L127.00,730.01 L127.28,730.23 L127.55,730.46 L127.82,730.70 L128.08,730.93 L128.34,731.17 L128.60,731.42 L128.85,731.66 L129.09,731.91 L129.33,732.17 L129.57,732.43 L129.73,732.54 L129.82,732.49 L129.91,732.45 L130.01,732.41 L130.10,732.38 L130.19,732.34 L130.29,732.30 L130.38,732.26 L130.47,732.23 L130.57,732.19 L130.66,732.16 L130.76,732.13 L130.85,732.09 L130.95,732.06 L131.04,732.03 L131.14,732.00 L131.23,731.97 L131.33,731.95 L131.43,731.92 L131.52,731.89 L131.62,731.87 L131.72,731.84 L131.82,731.82 L131.91,731.79 L132.01,731.77 L132.11,731.75 L132.21,731.73 L132.31,731.71 L132.40,731.69 L132.50,731.67 L132.60,731.66 L132.70,731.64 L132.80,731.63 L132.90,731.61 L133.00,731.60 L133.10,731.59 L133.18,731.41 L133.25,731.07 L133.32,730.72 L133.40,730.38 L133.48,730.04 L133.57,729.70 L133.67,729.36 L133.77,729.02 L133.87,728.68 L133.99,728.34 L134.11,728.01 L134.23,727.67 L134.36,727.33 L134.50,727.00 L134.64,727.00 L134.78,727.00 L134.92,727.01 L135.06,727.01 L135.20,727.02 L135.34,727.02 L135.48,727.03 L135.62,727.04 L135.76,727.05 L135.89,727.06 L136.03,727.07 L136.17,727.09 L136.31,727.10 L136.45,727.12 L136.59,727.14 L136.73,727.16 L136.86,727.18 L137.00,727.20 L137.14,727.22 L137.28,727.24 L137.42,727.27 L137.55,727.29 L137.69,727.32 L137.83,727.35 L137.96,727.38 L138.10,727.41 L138.24,727.44 L138.29,727.80 L138.34,728.16 L138.38,728.51 L138.42,728.87 L138.45,729.22 L138.48,729.58 L138.50,729.93 L138.51,730.28 L138.52,730.64 L138.52,730.99 L138.52,731.34 L138.51,731.69 L138.49,732.04 L138.53,732.23 L138.62,732.26 L138.71,732.30 L138.81,732.34 L138.90,732.38 L138.99,732.41 L139.09,732.45 L139.18,732.49 L139.27,732.54 L139.36,732.58 L139.45,732.62 L139.54,732.66 L139.63,732.71 L139.72,732.75 L139.81,732.80 L139.90,732.85 L139.99,732.89 L140.08,732.94 L140.16,732.99 L140.25,733.04 L140.34,733.09 L140.42,733.14 L140.51,733.19 L140.59,733.25 L140.68,733.30 L140.76,733.36 L140.85,733.41 L140.93,733.47 L141.01,733.52 L141.10,733.58 L141.18,733.64 L141.26,733.70 L141.34,733.76 L141.42,733.82 L141.50,733.88 L141.58,733.94 L141.76,733.87 L142.05,733.67 L142.34,733.48 L142.64,733.30 L142.94,733.11 L143.25,732.94 L143.56,732.76 L143.87,732.60 L144.18,732.43 L144.50,732.27 L144.83,732.12 L145.15,731.97 L145.48,731.83 L145.81,731.69 L145.91,731.79 L146.01,731.89 L146.11,731.99 L146.20,732.09 L146.30,732.19 L146.39,732.29 L146.48,732.40 L146.58,732.50 L146.67,732.61 L146.76,732.72 L146.85,732.82 L146.93,732.93 L147.02,733.04 L147.11,733.15 L147.19,733.26 L147.28,733.37 L147.36,733.48 L147.44,733.60 L147.53,733.71 L147.61,733.82 L147.69,733.94 L147.76,734.05 L147.84,734.17 L147.92,734.29 L147.99,734.40 L148.07,734.52 L148.14,734.64 L147.93,734.93 L147.71,735.22 L147.49,735.50 L147.27,735.78 L147.04,736.05 L146.80,736.32 L146.57,736.58 L146.33,736.84 L146.08,737.10 L145.84,737.35 L145.59,737.59 L145.33,737.83 L145.07,738.07 L144.96,738.23 L145.01,738.32 L145.05,738.41 L145.09,738.51 L145.12,738.60 L145.16,738.69 L145.20,738.79 L145.24,738.88 L145.27,738.97 L145.31,739.07 L145.34,739.16 L145.37,739.26 L145.41,739.35 L145.44,739.45 L145.47,739.54 L145.50,739.64 L145.53,739.73 L145.55,739.83 L145.58,739.93 L145.61,740.02 L145.63,740.12 L145.66,740.22 L145.68,740.32 L145.71,740.41 L145.73,740.51 L145.75,740.61 L145.77,740.71 L145.79,740.81 L145.81,740.90 L145.83,741.00 L145.84,741.10 L145.86,741.20 L145.87,741.30 L145.89,741.40 L145.90,741.50 L145.91,741.60 L146.09,741.68 L146.43,741.75 L146.78,741.82 L147.12,741.90 L147.46,741.98 L147.80,742.07 L148.14,742.17 L148.48,742.27 L148.82,742.37 L149.16,742.49 L149.49,742.61 L149.83,742.73 L150.17,742.86 Z"/>
 <circle cx="134.5" cy="743" r="4.5" fill="none" stroke="#8f8f9b" stroke-width="3"/>
 <path d="M130.6,1513.8 a4,4 0 1 1 5.6,3.6 c-1.2,0.6 -1.7,1.4 -1.7,2.8" fill="none" stroke="#8f8f9b" stroke-width="3.2" stroke-linecap="round"/>
 <circle cx="134.5" cy="1524.6" r="1.9" fill="#8f8f9b"/>
 <rect x="95.5" y="460" width="6" height="81" rx="3" fill="url(#act)"/>
 <!-- avatar -->
 <circle cx="134.5" cy="1438.7" r="20.5" fill="#c6c6c6"/>
 <clipPath id="avc"><circle cx="134.5" cy="1438.7" r="20.5"/></clipPath>
 <g clip-path="url(#avc)" fill="#fff">
  <circle cx="134.5" cy="1434" r="9.2"/>
  <ellipse cx="134.5" cy="1460" rx="14.5" ry="17"/>
 </g>
</svg>
<div class="a" style="left:880px;top:97px;width:175px;text-align:center;font-size:22px;color:#f2f2f2;letter-spacing:-0.4px">192.168.10.210</div>


<!-- grafana header -->
<div class="a" style="left:246px;top:190px;font-size:28px;letter-spacing:1.3px;color:#ccccdc;white-space:nowrap">Default</div>
<div class="a" style="left:357px;top:190px;font-size:28px;letter-spacing:0.47px;color:#ccccdc;white-space:nowrap">/ Kubernetes / Compute Reso...</div>
<div class="btn" style="left:980px;width:71px"></div>
<div class="btn" style="left:1064px;width:61px"></div>
<div class="btn" style="left:1138px;width:61px"></div>
<div class="btn" style="left:1212px;width:337px"></div>
<div class="a" style="left:1489px;top:179px;width:1px;height:52px;background:#2a2c32"></div>
<div class="btn" style="left:1563px;width:162px"></div>
<div class="a" style="left:1622px;top:179px;width:1px;height:52px;background:#2a2c32"></div>
<div class="btn" style="left:1738px;width:61px"></div>
<div class="a" style="left:1271px;top:192px;font-size:22.5px;font-weight:bold;color:#9d9da8;white-space:nowrap">Last 1 hour</div>
<div class="a" style="left:1402px;top:195px;font-size:19.5px;font-weight:bold;color:#e8893a;white-space:nowrap">UTC</div>
<div class="a" style="left:1636px;top:191px;font-size:24px;font-weight:bold;color:#9d9da8;white-space:nowrap">10s</div>
<!-- variables -->
<div class="a" style="left:202px;top:259px;width:143px;height:53px;background:#181b1f;border:1px solid #2a2c32;border-radius:3px"></div>
<div class="a" style="left:352px;top:259px;width:185px;height:53px;background:#111217;border:1px solid #2c2e34;border-radius:3px"></div>
<div class="a" style="left:563px;top:259px;width:136px;height:53px;background:#181b1f;border:1px solid #2a2c32;border-radius:3px"></div>
<div class="a" style="left:706px;top:259px;width:193px;height:53px;background:#111217;border:1px solid #2c2e34;border-radius:3px"></div>
<div class="a" style="left:216px;top:274.5px;font-size:20px;font-weight:bold;color:#6e9fff;white-space:nowrap">Data Source</div>
<div class="a" style="left:577px;top:274.5px;font-size:19.8px;font-weight:bold;color:#6e9fff;white-space:nowrap">namespace</div>
<div class="a" style="left:367px;top:272.0px;font-size:24px;color:#ccccdc;white-space:nowrap">prometheus</div>
<div class="a" style="left:721px;top:272.0px;font-size:24px;color:#ccccdc;white-space:nowrap">kube-system</div>
<svg class="a" style="left:0;top:0" width="1920" height="1696" viewBox="0 0 1920 1696">
 <g fill="none" stroke="#ccccdc" stroke-width="2" stroke-linecap="round" stroke-linejoin="round">
  <rect x="204.5" y="191.5" width="9" height="9"/>
  <rect x="219.5" y="191.5" width="9" height="9"/>
  <rect x="204.5" y="206.5" width="9" height="9"/>
  <rect x="219.5" y="206.5" width="9" height="9"/>
  <polyline points="505,282.5 509.5,287 514,282.5" stroke-width="1.8"/>
  <polyline points="868,282.5 872.5,287 877,282.5" stroke-width="1.8"/>
  <path d="M808.5,189 l3.6,7.6 l8.3,1.1 l-6.1,5.8 l1.5,8.2 l-7.3,-4 l-7.3,4 l1.5,-8.2 l-6.1,-5.8 l8.3,-1.1 z" stroke-width="2.2"/>
  <circle cx="873.5" cy="192.3" r="4" stroke-width="2.4"/>
  <circle cx="858.3" cy="200" r="4" stroke-width="2.4"/>
  <circle cx="873.5" cy="207.8" r="4" stroke-width="2.4"/>
  <line x1="861.8" y1="198.2" x2="870" y2="194" stroke-width="2.4"/>
  <line x1="861.8" y1="201.8" x2="870" y2="206" stroke-width="2.4"/>
 </g>
 <!-- row chevrons -->
 <g fill="none" stroke="#ccccdc" stroke-width="2" stroke-linecap="round" stroke-linejoin="round">
  <polyline points="210,348 214.5,353 219,348"/>
  <polyline points="210,604 214.5,609 219,604"/>
  <polyline points="210,1115 214.5,1120 219,1115"/>
 </g>
 <g fill="none" stroke="#9d9da8" stroke-width="2.6" stroke-linecap="round" stroke-linejoin="round">
  <!-- add panel -->
  <rect x="995" y="201.5" width="5.5" height="14.2" fill="#8e8e9a" stroke="none"/>
  <rect x="1002.3" y="197.5" width="5.5" height="18.2" fill="#8e8e9a" stroke="none"/>
  <rect x="1009.6" y="204.5" width="5.5" height="11.2" fill="#8e8e9a" stroke="none"/>
  <rect x="1016.8" y="194" width="5.8" height="21.7" fill="#8e8e9a" stroke="none"/>
  <path d="M1025.4,196.8 h5.8 v5.4 h5.2 v5.8 h-5.2 v5.6 h-5.8 v-5.6 h-5.4 v-5.8 h5.4 z" fill="#f0a63c" stroke="#181b1f" stroke-width="1.3" stroke-linejoin="miter"/>
  <!-- save -->
  <path d="M1086,194.5 h12.5 l6,6 v12.5 a3,3 0 0 1 -3,3 h-15.5 a3,3 0 0 1 -3,-3 v-15.5 a3,3 0 0 1 3,-3 z" stroke-width="2.3"/>
  <path d="M1089.5,194.5 v4.5 h9 v-4.5" stroke-width="2.1"/>
  <path d="M1088.5,216 v-5.5 a2.5,2.5 0 0 1 2.5,-2.5 h9 a2.5,2.5 0 0 1 2.5,2.5 v5.5" stroke-width="2.1"/>
  <path d="M1180.70,205.00 L1180.70,205.11 L1180.70,205.21 L1180.70,205.32 L1180.69,205.43 L1180.69,205.53 L1180.68,205.64 L1180.68,205.74 L1180.67,205.85 L1180.66,205.96 L1180.65,206.06 L1180.64,206.17 L1180.63,206.28 L1180.62,206.38 L1180.48,206.47 L1180.21,206.54 L1179.94,206.61 L1179.67,206.67 L1179.40,206.73 L1179.13,206.78 L1178.86,206.83 L1178.58,206.87 L1178.31,206.91 L1178.04,206.94 L1177.77,206.97 L1177.50,207.00 L1177.23,207.02 L1176.96,207.03 L1176.94,207.10 L1176.92,207.18 L1176.90,207.25 L1176.88,207.32 L1176.86,207.40 L1176.84,207.47 L1176.82,207.54 L1176.80,207.62 L1176.77,207.69 L1176.75,207.76 L1176.73,207.83 L1176.70,207.90 L1176.68,207.98 L1176.65,208.05 L1176.62,208.12 L1176.59,208.19 L1176.57,208.26 L1176.54,208.33 L1176.51,208.40 L1176.48,208.47 L1176.45,208.54 L1176.42,208.61 L1176.38,208.68 L1176.35,208.75 L1176.32,208.81 L1176.29,208.88 L1176.25,208.95 L1176.22,209.02 L1176.18,209.08 L1176.15,209.15 L1176.11,209.22 L1176.07,209.28 L1176.03,209.35 L1176.00,209.42 L1175.96,209.48 L1175.92,209.55 L1176.10,209.75 L1176.27,209.95 L1176.45,210.16 L1176.62,210.37 L1176.79,210.59 L1176.95,210.81 L1177.11,211.03 L1177.27,211.26 L1177.43,211.49 L1177.58,211.72 L1177.73,211.95 L1177.87,212.19 L1178.01,212.43 L1178.05,212.59 L1177.98,212.68 L1177.91,212.76 L1177.85,212.84 L1177.78,212.92 L1177.71,213.00 L1177.64,213.08 L1177.57,213.16 L1177.49,213.24 L1177.42,213.32 L1177.35,213.40 L1177.28,213.47 L1177.20,213.55 L1177.13,213.63 L1177.05,213.70 L1176.97,213.78 L1176.90,213.85 L1176.82,213.92 L1176.74,213.99 L1176.66,214.07 L1176.58,214.14 L1176.50,214.21 L1176.42,214.28 L1176.34,214.35 L1176.26,214.41 L1176.18,214.48 L1176.09,214.55 L1175.93,214.51 L1175.69,214.37 L1175.45,214.23 L1175.22,214.08 L1174.99,213.93 L1174.76,213.77 L1174.53,213.61 L1174.31,213.45 L1174.09,213.29 L1173.87,213.12 L1173.66,212.95 L1173.45,212.77 L1173.25,212.60 L1173.05,212.42 L1172.98,212.46 L1172.92,212.50 L1172.85,212.53 L1172.78,212.57 L1172.72,212.61 L1172.65,212.65 L1172.58,212.68 L1172.52,212.72 L1172.45,212.75 L1172.38,212.79 L1172.31,212.82 L1172.25,212.85 L1172.18,212.88 L1172.11,212.92 L1172.04,212.95 L1171.97,212.98 L1171.90,213.01 L1171.83,213.04 L1171.76,213.07 L1171.69,213.09 L1171.62,213.12 L1171.55,213.15 L1171.48,213.18 L1171.40,213.20 L1171.33,213.23 L1171.26,213.25 L1171.19,213.27 L1171.12,213.30 L1171.04,213.32 L1170.97,213.34 L1170.90,213.36 L1170.82,213.38 L1170.75,213.40 L1170.68,213.42 L1170.60,213.44 L1170.53,213.46 L1170.52,213.73 L1170.50,214.00 L1170.47,214.27 L1170.44,214.54 L1170.41,214.81 L1170.37,215.08 L1170.33,215.36 L1170.28,215.63 L1170.23,215.90 L1170.17,216.17 L1170.11,216.44 L1170.04,216.71 L1169.97,216.98 L1169.88,217.12 L1169.78,217.13 L1169.67,217.14 L1169.56,217.15 L1169.46,217.16 L1169.35,217.17 L1169.24,217.18 L1169.14,217.18 L1169.03,217.19 L1168.93,217.19 L1168.82,217.20 L1168.71,217.20 L1168.61,217.20 L1168.50,217.20 L1168.39,217.20 L1168.29,217.20 L1168.18,217.20 L1168.07,217.19 L1167.97,217.19 L1167.86,217.18 L1167.76,217.18 L1167.65,217.17 L1167.54,217.16 L1167.44,217.15 L1167.33,217.14 L1167.22,217.13 L1167.12,217.12 L1167.03,216.98 L1166.96,216.71 L1166.89,216.44 L1166.83,216.17 L1166.77,215.90 L1166.72,215.63 L1166.67,215.36 L1166.63,215.08 L1166.59,214.81 L1166.56,214.54 L1166.53,214.27 L1166.50,214.00 L1166.48,213.73 L1166.47,213.46 L1166.40,213.44 L1166.32,213.42 L1166.25,213.40 L1166.18,213.38 L1166.10,213.36 L1166.03,213.34 L1165.96,213.32 L1165.88,213.30 L1165.81,213.27 L1165.74,213.25 L1165.67,213.23 L1165.60,213.20 L1165.52,213.18 L1165.45,213.15 L1165.38,213.12 L1165.31,213.09 L1165.24,213.07 L1165.17,213.04 L1165.10,213.01 L1165.03,212.98 L1164.96,212.95 L1164.89,212.92 L1164.82,212.88 L1164.75,212.85 L1164.69,212.82 L1164.62,212.79 L1164.55,212.75 L1164.48,212.72 L1164.42,212.68 L1164.35,212.65 L1164.28,212.61 L1164.22,212.57 L1164.15,212.53 L1164.08,212.50 L1164.02,212.46 L1163.95,212.42 L1163.75,212.60 L1163.55,212.77 L1163.34,212.95 L1163.13,213.12 L1162.91,213.29 L1162.69,213.45 L1162.47,213.61 L1162.24,213.77 L1162.01,213.93 L1161.78,214.08 L1161.55,214.23 L1161.31,214.37 L1161.07,214.51 L1160.91,214.55 L1160.82,214.48 L1160.74,214.41 L1160.66,214.35 L1160.58,214.28 L1160.50,214.21 L1160.42,214.14 L1160.34,214.07 L1160.26,213.99 L1160.18,213.92 L1160.10,213.85 L1160.03,213.78 L1159.95,213.70 L1159.87,213.63 L1159.80,213.55 L1159.72,213.47 L1159.65,213.40 L1159.58,213.32 L1159.51,213.24 L1159.43,213.16 L1159.36,213.08 L1159.29,213.00 L1159.22,212.92 L1159.15,212.84 L1159.09,212.76 L1159.02,212.68 L1158.95,212.59 L1158.99,212.43 L1159.13,212.19 L1159.27,211.95 L1159.42,211.72 L1159.57,211.49 L1159.73,211.26 L1159.89,211.03 L1160.05,210.81 L1160.21,210.59 L1160.38,210.37 L1160.55,210.16 L1160.73,209.95 L1160.90,209.75 L1161.08,209.55 L1161.04,209.48 L1161.00,209.42 L1160.97,209.35 L1160.93,209.28 L1160.89,209.22 L1160.85,209.15 L1160.82,209.08 L1160.78,209.02 L1160.75,208.95 L1160.71,208.88 L1160.68,208.81 L1160.65,208.75 L1160.62,208.68 L1160.58,208.61 L1160.55,208.54 L1160.52,208.47 L1160.49,208.40 L1160.46,208.33 L1160.43,208.26 L1160.41,208.19 L1160.38,208.12 L1160.35,208.05 L1160.32,207.98 L1160.30,207.90 L1160.27,207.83 L1160.25,207.76 L1160.23,207.69 L1160.20,207.62 L1160.18,207.54 L1160.16,207.47 L1160.14,207.40 L1160.12,207.32 L1160.10,207.25 L1160.08,207.18 L1160.06,207.10 L1160.04,207.03 L1159.77,207.02 L1159.50,207.00 L1159.23,206.97 L1158.96,206.94 L1158.69,206.91 L1158.42,206.87 L1158.14,206.83 L1157.87,206.78 L1157.60,206.73 L1157.33,206.67 L1157.06,206.61 L1156.79,206.54 L1156.52,206.47 L1156.38,206.38 L1156.37,206.28 L1156.36,206.17 L1156.35,206.06 L1156.34,205.96 L1156.33,205.85 L1156.32,205.74 L1156.32,205.64 L1156.31,205.53 L1156.31,205.43 L1156.30,205.32 L1156.30,205.21 L1156.30,205.11 L1156.30,205.00 L1156.30,204.89 L1156.30,204.79 L1156.30,204.68 L1156.31,204.57 L1156.31,204.47 L1156.32,204.36 L1156.32,204.26 L1156.33,204.15 L1156.34,204.04 L1156.35,203.94 L1156.36,203.83 L1156.37,203.72 L1156.38,203.62 L1156.52,203.53 L1156.79,203.46 L1157.06,203.39 L1157.33,203.33 L1157.60,203.27 L1157.87,203.22 L1158.14,203.17 L1158.42,203.13 L1158.69,203.09 L1158.96,203.06 L1159.23,203.03 L1159.50,203.00 L1159.77,202.98 L1160.04,202.97 L1160.06,202.90 L1160.08,202.82 L1160.10,202.75 L1160.12,202.68 L1160.14,202.60 L1160.16,202.53 L1160.18,202.46 L1160.20,202.38 L1160.23,202.31 L1160.25,202.24 L1160.27,202.17 L1160.30,202.10 L1160.32,202.02 L1160.35,201.95 L1160.38,201.88 L1160.41,201.81 L1160.43,201.74 L1160.46,201.67 L1160.49,201.60 L1160.52,201.53 L1160.55,201.46 L1160.58,201.39 L1160.62,201.32 L1160.65,201.25 L1160.68,201.19 L1160.71,201.12 L1160.75,201.05 L1160.78,200.98 L1160.82,200.92 L1160.85,200.85 L1160.89,200.78 L1160.93,200.72 L1160.97,200.65 L1161.00,200.58 L1161.04,200.52 L1161.08,200.45 L1160.90,200.25 L1160.73,200.05 L1160.55,199.84 L1160.38,199.63 L1160.21,199.41 L1160.05,199.19 L1159.89,198.97 L1159.73,198.74 L1159.57,198.51 L1159.42,198.28 L1159.27,198.05 L1159.13,197.81 L1158.99,197.57 L1158.95,197.41 L1159.02,197.32 L1159.09,197.24 L1159.15,197.16 L1159.22,197.08 L1159.29,197.00 L1159.36,196.92 L1159.43,196.84 L1159.51,196.76 L1159.58,196.68 L1159.65,196.60 L1159.72,196.53 L1159.80,196.45 L1159.87,196.37 L1159.95,196.30 L1160.03,196.22 L1160.10,196.15 L1160.18,196.08 L1160.26,196.01 L1160.34,195.93 L1160.42,195.86 L1160.50,195.79 L1160.58,195.72 L1160.66,195.65 L1160.74,195.59 L1160.82,195.52 L1160.91,195.45 L1161.07,195.49 L1161.31,195.63 L1161.55,195.77 L1161.78,195.92 L1162.01,196.07 L1162.24,196.23 L1162.47,196.39 L1162.69,196.55 L1162.91,196.71 L1163.13,196.88 L1163.34,197.05 L1163.55,197.23 L1163.75,197.40 L1163.95,197.58 L1164.02,197.54 L1164.08,197.50 L1164.15,197.47 L1164.22,197.43 L1164.28,197.39 L1164.35,197.35 L1164.42,197.32 L1164.48,197.28 L1164.55,197.25 L1164.62,197.21 L1164.69,197.18 L1164.75,197.15 L1164.82,197.12 L1164.89,197.08 L1164.96,197.05 L1165.03,197.02 L1165.10,196.99 L1165.17,196.96 L1165.24,196.93 L1165.31,196.91 L1165.38,196.88 L1165.45,196.85 L1165.52,196.82 L1165.60,196.80 L1165.67,196.77 L1165.74,196.75 L1165.81,196.73 L1165.88,196.70 L1165.96,196.68 L1166.03,196.66 L1166.10,196.64 L1166.18,196.62 L1166.25,196.60 L1166.32,196.58 L1166.40,196.56 L1166.47,196.54 L1166.48,196.27 L1166.50,196.00 L1166.53,195.73 L1166.56,195.46 L1166.59,195.19 L1166.63,194.92 L1166.67,194.64 L1166.72,194.37 L1166.77,194.10 L1166.83,193.83 L1166.89,193.56 L1166.96,193.29 L1167.03,193.02 L1167.12,192.88 L1167.22,192.87 L1167.33,192.86 L1167.44,192.85 L1167.54,192.84 L1167.65,192.83 L1167.76,192.82 L1167.86,192.82 L1167.97,192.81 L1168.07,192.81 L1168.18,192.80 L1168.29,192.80 L1168.39,192.80 L1168.50,192.80 L1168.61,192.80 L1168.71,192.80 L1168.82,192.80 L1168.93,192.81 L1169.03,192.81 L1169.14,192.82 L1169.24,192.82 L1169.35,192.83 L1169.46,192.84 L1169.56,192.85 L1169.67,192.86 L1169.78,192.87 L1169.88,192.88 L1169.97,193.02 L1170.04,193.29 L1170.11,193.56 L1170.17,193.83 L1170.23,194.10 L1170.28,194.37 L1170.33,194.64 L1170.37,194.92 L1170.41,195.19 L1170.44,195.46 L1170.47,195.73 L1170.50,196.00 L1170.52,196.27 L1170.53,196.54 L1170.60,196.56 L1170.68,196.58 L1170.75,196.60 L1170.82,196.62 L1170.90,196.64 L1170.97,196.66 L1171.04,196.68 L1171.12,196.70 L1171.19,196.73 L1171.26,196.75 L1171.33,196.77 L1171.40,196.80 L1171.48,196.82 L1171.55,196.85 L1171.62,196.88 L1171.69,196.91 L1171.76,196.93 L1171.83,196.96 L1171.90,196.99 L1171.97,197.02 L1172.04,197.05 L1172.11,197.08 L1172.18,197.12 L1172.25,197.15 L1172.31,197.18 L1172.38,197.21 L1172.45,197.25 L1172.52,197.28 L1172.58,197.32 L1172.65,197.35 L1172.72,197.39 L1172.78,197.43 L1172.85,197.47 L1172.92,197.50 L1172.98,197.54 L1173.05,197.58 L1173.25,197.40 L1173.45,197.23 L1173.66,197.05 L1173.87,196.88 L1174.09,196.71 L1174.31,196.55 L1174.53,196.39 L1174.76,196.23 L1174.99,196.07 L1175.22,195.92 L1175.45,195.77 L1175.69,195.63 L1175.93,195.49 L1176.09,195.45 L1176.18,195.52 L1176.26,195.59 L1176.34,195.65 L1176.42,195.72 L1176.50,195.79 L1176.58,195.86 L1176.66,195.93 L1176.74,196.01 L1176.82,196.08 L1176.90,196.15 L1176.97,196.22 L1177.05,196.30 L1177.13,196.37 L1177.20,196.45 L1177.28,196.53 L1177.35,196.60 L1177.42,196.68 L1177.49,196.76 L1177.57,196.84 L1177.64,196.92 L1177.71,197.00 L1177.78,197.08 L1177.85,197.16 L1177.91,197.24 L1177.98,197.32 L1178.05,197.41 L1178.01,197.57 L1177.87,197.81 L1177.73,198.05 L1177.58,198.28 L1177.43,198.51 L1177.27,198.74 L1177.11,198.97 L1176.95,199.19 L1176.79,199.41 L1176.62,199.63 L1176.45,199.84 L1176.27,200.05 L1176.10,200.25 L1175.92,200.45 L1175.96,200.52 L1176.00,200.58 L1176.03,200.65 L1176.07,200.72 L1176.11,200.78 L1176.15,200.85 L1176.18,200.92 L1176.22,200.98 L1176.25,201.05 L1176.29,201.12 L1176.32,201.19 L1176.35,201.25 L1176.38,201.32 L1176.42,201.39 L1176.45,201.46 L1176.48,201.53 L1176.51,201.60 L1176.54,201.67 L1176.57,201.74 L1176.59,201.81 L1176.62,201.88 L1176.65,201.95 L1176.68,202.02 L1176.70,202.10 L1176.73,202.17 L1176.75,202.24 L1176.77,202.31 L1176.80,202.38 L1176.82,202.46 L1176.84,202.53 L1176.86,202.60 L1176.88,202.68 L1176.90,202.75 L1176.92,202.82 L1176.94,202.90 L1176.96,202.97 L1177.23,202.98 L1177.50,203.00 L1177.77,203.03 L1178.04,203.06 L1178.31,203.09 L1178.58,203.13 L1178.86,203.17 L1179.13,203.22 L1179.40,203.27 L1179.67,203.33 L1179.94,203.39 L1180.21,203.46 L1180.48,203.53 L1180.62,203.62 L1180.63,203.72 L1180.64,203.83 L1180.65,203.94 L1180.66,204.04 L1180.67,204.15 L1180.68,204.26 L1180.68,204.36 L1180.69,204.47 L1180.69,204.57 L1180.70,204.68 L1180.70,204.79 L1180.70,204.89 Z" stroke-width="2.2"/><circle cx="1168.5" cy="205" r="3.8"/>
  <!-- clock -->
  <circle cx="1242.5" cy="205" r="11.5"/>
  <polyline points="1243,198.5 1243,205.5 1238,205.5"/>
  <!-- zoom out -->
  <circle cx="1516.5" cy="204" r="11"/>
  <line x1="1511" y1="203.5" x2="1522" y2="203.5" stroke-width="2.6"/>
  <line x1="1525" y1="212.5" x2="1530.5" y2="218"/>
  <!-- refresh -->
  <path d="M1582,199.5 A11,11 0 0 1 1602.5,201"/>
  <path d="M1603,210.5 A11,11 0 0 1 1582.5,209"/>
  <polyline points="1581,193.5 1581.5,200 1587.5,199.5"/>
  <polyline points="1604,216.5 1603.5,210 1597.5,210.5"/>
  <polyline points="1691,202.5 1696,207.5 1701,202.5"/>
  <polyline points="1455.5,201.5 1460.5,206.5 1465.5,201.5"/>
  <!-- monitor -->
  <rect x="1757" y="193.5" width="23.5" height="17" rx="2.5"/>
  <line x1="1757" y1="205.5" x2="1780.5" y2="205.5"/>
  <rect x="1764" y="211" width="9.5" height="5" rx="2"/>
 </g>
</svg>

<!-- rows -->
<div class="rowh" style="left:229px;top:336.5px;font-size:25.5px;letter-spacing:0.2px">Headlines</div>
<div class="rowh" style="left:229px;top:590.5px;font-size:25.5px;letter-spacing:0px">CPU Usage</div>
<div class="rowh" style="left:229px;top:1102px;font-size:25.5px">CPU Quota</div>
<!-- stat panels -->
<div class="panel" style="left:202px;top:390px;width:390px;height:178px"><div class="ptitle" style="top:15px;margin-left:-8px">CPU Utilisation (from reques...</div><div class="stat" style="top:69px"><span class="sv">10<span style="margin:0 3px 0 4px">.</span>1</span><span class="sp" style="margin-left:14px">%</span></div></div>
<div class="panel" style="left:605px;top:390px;width:390px;height:178px"><div class="ptitle" style="top:15px">CPU Utilisation (from limits)</div><div class="stat" style="top:69px"><span class="sv" style="letter-spacing:-1px">58<span style="margin:0 2px 0 3px">.</span>2</span><span class="sp">%</span></div></div>
<div class="panel" style="left:1007px;top:390px;width:390px;height:178px"><div class="ptitle" style="top:15px;margin-left:-4px">Memory Utilisation (from req...</div><div class="stat" style="top:69px"><span class="sv" style="letter-spacing:-1px">148</span><span class="sp">%</span></div></div>
<div class="panel" style="left:1411px;top:390px;width:389px;height:178px"><div class="ptitle" style="top:15px;margin-left:-6px">Memory Utilisation (from lim...</div><div class="stat" style="top:69px"><span class="sv" style="letter-spacing:-1px">181</span><span class="sp">%</span></div></div>
<!-- chart panel -->
<div class="panel" style="left:202px;top:646px;width:1597px;height:433px"><div class="ptitle" style="top:13.5px">CPU Usage</div></div>
<svg class="a" style="left:0;top:0" width="1920" height="1696" viewBox="0 0 1920 1696">
 <g stroke="#46484d" stroke-width="1.2">
  <line x1="291" y1="730" x2="1331" y2="730"/>
  <line x1="291" y1="803" x2="1331" y2="803"/>
  <line x1="291" y1="877.5" x2="1331" y2="877.5"/>
  <line x1="291" y1="951.5" x2="1331" y2="951.5"/>
  <line x1="291" y1="1025.5" x2="1331" y2="1025.5"/>
  <line x1="456.5" y1="730" x2="456.5" y2="1025.5"/>
  <line x1="629.8" y1="730" x2="629.8" y2="1025.5"/>
  <line x1="803.2" y1="730" x2="803.2" y2="1025.5"/>
  <line x1="976.6" y1="730" x2="976.6" y2="1025.5"/>
  <line x1="1149.8" y1="730" x2="1149.8" y2="1025.5"/>
  <line x1="1323.5" y1="730" x2="1323.5" y2="1025.5"/>
 </g>
 <polygon points="872.0,1020.8 906.7,1020.0 941.3,1022.3 976.0,1023.1 1010.6,1020.8 1045.3,1022.3 1079.9,1021.5 1114.6,1020.8 1149.2,1022.3 1183.9,1021.5 1218.5,1021.5 1253.2,1019.2 1287.8,1021.5 1322.5,1022.3 1322.5,1025.5 1287.8,1025.5 1253.2,1025.5 1218.5,1025.5 1183.9,1025.5 1149.2,1025.5 1114.6,1025.5 1079.9,1025.5 1045.3,1025.5 1010.6,1025.5 976.0,1025.5 941.3,1025.5 906.7,1025.5 872.0,1025.5" fill="#88b373"/>
<polygon points="872.0,1016.2 906.7,1016.2 941.3,1018.5 976.0,1019.2 1010.6,1016.2 1045.3,1019.2 1079.9,1018.5 1114.6,1017.7 1149.2,1018.5 1183.9,1017.7 1218.5,1017.7 1253.2,1016.2 1287.8,1017.7 1322.5,1018.5 1322.5,1022.3 1287.8,1021.5 1253.2,1019.2 1218.5,1021.5 1183.9,1021.5 1149.2,1022.3 1114.6,1020.8 1079.9,1021.5 1045.3,1022.3 1010.6,1020.8 976.0,1023.1 941.3,1022.3 906.7,1020.0 872.0,1020.8" fill="#e8bc4a"/>
<polygon points="872.0,993.9 906.7,993.9 941.3,996.2 976.0,996.2 1010.6,994.7 1045.3,997.0 1079.9,984.0 1114.6,984.7 1149.2,997.0 1183.9,993.9 1218.5,990.9 1253.2,987.0 1287.8,993.9 1322.5,996.2 1322.5,1018.5 1287.8,1017.7 1253.2,1016.2 1218.5,1017.7 1183.9,1017.7 1149.2,1018.5 1114.6,1017.7 1079.9,1018.5 1045.3,1019.2 1010.6,1016.2 976.0,1019.2 941.3,1018.5 906.7,1016.2 872.0,1016.2" fill="#85cfdf"/>
<polygon points="872.0,895.0 906.7,883.5 941.3,874.3 976.0,887.3 1010.6,868.2 1045.3,891.2 1079.9,849.8 1114.6,823.7 1149.2,877.4 1183.9,859.0 1218.5,903.4 1253.2,918.8 1287.8,862.0 1322.5,882.0 1322.5,996.2 1287.8,993.9 1253.2,987.0 1218.5,990.9 1183.9,993.9 1149.2,997.0 1114.6,984.7 1079.9,984.0 1045.3,997.0 1010.6,994.7 976.0,996.2 941.3,996.2 906.7,993.9 872.0,993.9" fill="#df884b"/>
<polygon points="872.0,874.3 906.7,862.8 941.3,858.7 976.0,873.5 1010.6,846.7 1045.3,865.9 1079.9,828.3 1114.6,802.2 1149.2,862.0 1183.9,836.0 1218.5,877.4 1253.2,895.0 1287.8,826.0 1322.5,855.9 1322.5,882.0 1287.8,862.0 1253.2,918.8 1218.5,903.4 1183.9,859.0 1149.2,877.4 1114.6,823.7 1079.9,849.8 1045.3,891.2 1010.6,868.2 976.0,887.3 941.3,874.3 906.7,883.5 872.0,895.0" fill="#d3574a"/>
<polygon points="872.0,868.9 906.7,858.2 941.3,854.4 976.0,868.2 1010.6,841.3 1045.3,862.0 1079.9,824.4 1114.6,799.1 1149.2,857.4 1183.9,831.3 1218.5,872.0 1253.2,889.6 1287.8,821.4 1322.5,850.5 1322.5,855.9 1287.8,826.0 1253.2,895.0 1218.5,877.4 1183.9,836.0 1149.2,862.0 1114.6,802.2 1079.9,828.3 1045.3,865.9 1010.6,846.7 976.0,873.5 941.3,858.7 906.7,862.8 872.0,874.3" fill="#3d7bc7"/>
<polygon points="872.0,865.9 906.7,853.6 941.3,850.5 976.0,863.6 1010.6,836.0 1045.3,859.0 1079.9,820.6 1114.6,794.5 1149.2,852.8 1183.9,827.5 1218.5,867.4 1253.2,885.8 1287.8,817.5 1322.5,846.7 1322.5,850.5 1287.8,821.4 1253.2,889.6 1218.5,872.0 1183.9,831.3 1149.2,857.4 1114.6,799.1 1079.9,824.4 1045.3,862.0 1010.6,841.3 976.0,868.2 941.3,854.4 906.7,858.2 872.0,868.9" fill="#b44aae"/>
<polygon points="872.0,861.3 906.7,848.2 941.3,847.5 976.0,855.1 1010.6,830.6 1045.3,855.1 1079.9,815.2 1114.6,789.9 1149.2,847.5 1183.9,822.9 1218.5,862.8 1253.2,881.2 1287.8,811.4 1322.5,841.3 1322.5,846.7 1287.8,817.5 1253.2,885.8 1218.5,867.4 1183.9,827.5 1149.2,852.8 1114.6,794.5 1079.9,820.6 1045.3,859.0 1010.6,836.0 976.0,863.6 941.3,850.5 906.7,853.6 872.0,865.9" fill="#c8a53a"/>
<polygon points="872.0,854.4 906.7,839.8 941.3,842.1 976.0,850.5 1010.6,824.0 1045.3,851.0 1079.9,809.6 1114.6,783.0 1149.2,843.6 1183.9,817.5 1218.5,858.7 1253.2,877.4 1287.8,806.0 1322.5,837.5 1322.5,841.3 1287.8,811.4 1253.2,881.2 1218.5,862.8 1183.9,822.9 1149.2,847.5 1114.6,789.9 1079.9,815.2 1045.3,855.1 1010.6,830.6 976.0,855.1 941.3,847.5 906.7,848.2 872.0,861.3" fill="#5583bf"/>
<polygon points="872.0,852.8 906.7,838.6 941.3,840.9 976.0,849.4 1010.6,822.9 1045.3,849.8 1079.9,808.3 1114.6,781.5 1149.2,842.1 1183.9,816.0 1218.5,857.4 1253.2,875.8 1287.8,804.5 1322.5,836.0 1322.5,837.5 1287.8,806.0 1253.2,877.4 1218.5,858.7 1183.9,817.5 1149.2,843.6 1114.6,783.0 1079.9,809.6 1045.3,851.0 1010.6,824.0 976.0,850.5 941.3,842.1 906.7,839.8 872.0,854.4" fill="#b8642a"/>

 <g font-family="Liberation Sans" font-size="21" fill="#ccccdc" text-anchor="end">
  <text x="282" y="737.5">0.200</text>
  <text x="282" y="810.5">0.150</text>
  <text x="282" y="885">0.100</text>
  <text x="282" y="959">0.0500</text>
  <text x="282" y="1033">0</text>
 </g>
 <g font-family="Liberation Sans" font-size="21" fill="#ccccdc" text-anchor="middle">
  <text x="456" y="1056">04:50</text>
  <text x="629.5" y="1056">05:00</text>
  <text x="802.5" y="1056">05:10</text>
  <text x="975.5" y="1056">05:20</text>
  <text x="1148.5" y="1056">05:30</text>
  <text x="1321.5" y="1056">05:40</text>
 </g>
</svg>
<div id="clip" class="a" style="left:96px;top:65px;width:1729px;height:1506px;overflow:hidden;border-radius:0 0 15px 15px"><div class="a" style="left:-96px;top:-65px;width:1920px;height:1696px">
<!-- table -->
<div class="panel" style="left:202px;top:1157px;width:1596px;height:500px"><div class="ptitle" style="top:14px">CPU Quota</div></div>
<div class="a" style="left:203px;top:1212px;width:1594px;height:3px;background:#131418"></div>
<div class="a" style="left:203px;top:1215px;width:1594px;height:41px;background:#24252a"></div>
<div class="a" style="left:203px;top:1256px;width:1594px;height:3px;background:#131418"></div>
<div class="a" style="left:229.5px;top:1223px;font-size:22px;font-weight:bold;color:#4aa3e6;white-space:nowrap;line-height:26px">Pod</div>
<div class="a" style="left:793.5px;top:1223px;font-size:22px;font-weight:bold;color:#4aa3e6;white-space:nowrap;line-height:26px">CPU Usage</div>
<div class="a" style="left:974.0px;top:1223px;font-size:22px;font-weight:bold;color:#4aa3e6;white-space:nowrap;line-height:26px">CPU Requests</div>
<div class="a" style="left:1189.0px;top:1223px;font-size:22px;font-weight:bold;color:#4aa3e6;white-space:nowrap;line-height:26px">CPU Requests %</div>
<div class="a" style="left:1428.5px;top:1223px;font-size:22px;font-weight:bold;color:#4aa3e6;white-space:nowrap;line-height:26px">CPU Limits</div>
<div class="a" style="left:1608.0px;top:1223px;font-size:22px;font-weight:bold;color:#4aa3e6;white-space:nowrap;line-height:26px">CPU Limits %</div>
<div class="a" style="left:203px;top:1321px;width:1581px;height:3px;background:#131418"></div>
<div class="a" style="left:203px;top:1381.5px;width:1581px;height:3px;background:#131418"></div>
<div class="a" style="left:203px;top:1442px;width:1581px;height:3px;background:#131418"></div>
<div class="a" style="left:203px;top:1502.5px;width:1581px;height:3px;background:#131418"></div>
<div class="a" style="left:203px;top:1563px;width:1581px;height:3px;background:#131418"></div>
<div class="a" style="left:764px;top:1264px;width:3px;height:320px;background:#131418"></div>
<div class="a" style="left:946px;top:1264px;width:3px;height:320px;background:#131418"></div>
<div class="a" style="left:1160px;top:1264px;width:3px;height:320px;background:#131418"></div>
<div class="a" style="left:1400px;top:1264px;width:3px;height:320px;background:#131418"></div>
<div class="a" style="left:1580px;top:1264px;width:3px;height:320px;background:#131418"></div>
<div class="a" style="left:229.5px;top:1278.0px;font-size:24.2px;color:#ccccdc;white-space:nowrap;line-height:28px;border-bottom:2px solid #ccccdc;padding-bottom:0px;height:31px">metrics-server-85b475cf99-8nxjf</div>
<div class="a" style="left:793.5px;top:1278.0px;font-size:24px;color:#ccccdc;white-space:nowrap;line-height:28px">0.00</div>
<div class="a" style="left:974.0px;top:1278.0px;font-size:24px;color:#ccccdc;white-space:nowrap;line-height:28px">0.10</div>
<div class="a" style="left:1189.0px;top:1278.0px;font-size:24px;color:#ccccdc;white-space:nowrap;line-height:28px">2.10%</div>
<div class="a" style="left:1428.5px;top:1278.0px;font-size:24px;color:#ccccdc;white-space:nowrap;line-height:28px">-</div>
<div class="a" style="left:1608.0px;top:1278.0px;font-size:24px;color:#ccccdc;white-space:nowrap;line-height:28px">-</div>
<div class="a" style="left:229.5px;top:1338.5px;font-size:24.2px;color:#ccccdc;white-space:nowrap;line-height:28px;border-bottom:2px solid #ccccdc;padding-bottom:0px;height:31px">kube-proxy-jsx8x</div>
<div class="a" style="left:793.5px;top:1338.5px;font-size:24px;color:#ccccdc;white-space:nowrap;line-height:28px">0.00</div>
<div class="a" style="left:974.0px;top:1338.5px;font-size:24px;color:#ccccdc;white-space:nowrap;line-height:28px">-</div>
<div class="a" style="left:1189.0px;top:1338.5px;font-size:24px;color:#ccccdc;white-space:nowrap;line-height:28px">-</div>
<div class="a" style="left:1428.5px;top:1338.5px;font-size:24px;color:#ccccdc;white-space:nowrap;line-height:28px">-</div>
<div class="a" style="left:1608.0px;top:1338.5px;font-size:24px;color:#ccccdc;white-space:nowrap;line-height:28px">-</div>
<div class="a" style="left:229.5px;top:1399.0px;font-size:24.2px;color:#ccccdc;white-space:nowrap;line-height:28px;border-bottom:2px solid #ccccdc;padding-bottom:0px;height:31px">kube-flannel-ds-qsn7x</div>
<div class="a" style="left:793.5px;top:1399.0px;font-size:24px;color:#ccccdc;white-space:nowrap;line-height:28px">0.00</div>
<div class="a" style="left:974.0px;top:1399.0px;font-size:24px;color:#ccccdc;white-space:nowrap;line-height:28px">0.10</div>
<div class="a" style="left:1189.0px;top:1399.0px;font-size:24px;color:#ccccdc;white-space:nowrap;line-height:28px">2.32%</div>
<div class="a" style="left:1428.5px;top:1399.0px;font-size:24px;color:#ccccdc;white-space:nowrap;line-height:28px">0.10</div>
<div class="a" style="left:1608.0px;top:1399.0px;font-size:24px;color:#ccccdc;white-space:nowrap;line-height:28px">2.32%</div>
<div class="a" style="left:229.5px;top:1459.5px;font-size:24.2px;color:#ccccdc;white-space:nowrap;line-height:28px;border-bottom:2px solid #ccccdc;padding-bottom:0px;height:31px">coredns-6c8957686c-klzc8</div>
<div class="a" style="left:793.5px;top:1459.5px;font-size:24px;color:#ccccdc;white-space:nowrap;line-height:28px">0.00</div>
<div class="a" style="left:974.0px;top:1459.5px;font-size:24px;color:#ccccdc;white-space:nowrap;line-height:28px">0.10</div>
<div class="a" style="left:1189.0px;top:1459.5px;font-size:24px;color:#ccccdc;white-space:nowrap;line-height:28px">2.23%</div>
<div class="a" style="left:1428.5px;top:1459.5px;font-size:24px;color:#ccccdc;white-space:nowrap;line-height:28px">-</div>
<div class="a" style="left:1608.0px;top:1459.5px;font-size:24px;color:#ccccdc;white-space:nowrap;line-height:28px">-</div>
<div class="a" style="left:229.5px;top:1520.0px;font-size:24.2px;color:#ccccdc;white-space:nowrap;line-height:28px;border-bottom:2px solid #ccccdc;padding-bottom:0px;height:31px">nfs-client-provisioner-75dfb4b5ff-6lxwv</div>
<div class="a" style="left:793.5px;top:1520.0px;font-size:24px;color:#ccccdc;white-space:nowrap;line-height:28px">0.00</div>
<div class="a" style="left:974.0px;top:1520.0px;font-size:24px;color:#ccccdc;white-space:nowrap;line-height:28px">-</div>
<div class="a" style="left:1189.0px;top:1520.0px;font-size:24px;color:#ccccdc;white-space:nowrap;line-height:28px">-</div>
<div class="a" style="left:1428.5px;top:1520.0px;font-size:24px;color:#ccccdc;white-space:nowrap;line-height:28px">-</div>
<div class="a" style="left:1608.0px;top:1520.0px;font-size:24px;color:#ccccdc;white-space:nowrap;line-height:28px">-</div>
<div class="a" style="left:1784px;top:1264px;width:13px;height:144px;background:#42444c;border:1.5px solid #0b0c0f;border-radius:2px"></div>
</div></div>
<!-- legend -->
<div class="a" style="left:1368px;top:745.0px;width:23px;height:6.5px;border-radius:2px;background:#84b46e"></div>
<div class="a" style="left:1408px;top:735.5px;font-size:20.7px;color:#ccccdc;white-space:nowrap;line-height:24px">coredns-6c8957686c-4772x</div>
<div class="a" style="left:1365px;top:769.8px;width:410px;height:43px;background:#222328"></div>
<div class="a" style="left:1368px;top:788.8px;width:23px;height:6.5px;border-radius:2px;background:#e8bd4a"></div>
<div class="a" style="left:1408px;top:779.2px;font-size:20.7px;color:#ccccdc;white-space:nowrap;line-height:24px">coredns-6c8957686c-klzc8</div>
<div class="a" style="left:1368px;top:832.5px;width:23px;height:6.5px;border-radius:2px;background:#78d2e0"></div>
<div class="a" style="left:1408px;top:823.0px;font-size:20.7px;color:#ccccdc;white-space:nowrap;line-height:24px">etcd-master</div>
<div class="a" style="left:1365px;top:857.2px;width:410px;height:43px;background:#222328"></div>
<div class="a" style="left:1368px;top:876.2px;width:23px;height:6.5px;border-radius:2px;background:#ec8b45"></div>
<div class="a" style="left:1408px;top:866.8px;font-size:20.7px;color:#ccccdc;white-space:nowrap;line-height:24px">kube-apiserver-master</div>
<div class="a" style="left:1368px;top:920.0px;width:23px;height:6.5px;border-radius:2px;background:#de5246"></div>
<div class="a" style="left:1408px;top:910.5px;font-size:20.7px;color:#ccccdc;white-space:nowrap;line-height:24px">kube-controller-manager-master</div>
<div class="a" style="left:1365px;top:944.8px;width:410px;height:43px;background:#222328"></div>
<div class="a" style="left:1368px;top:963.8px;width:23px;height:6.5px;border-radius:2px;background:#3a7dcb"></div>
<div class="a" style="left:1408px;top:954.2px;font-size:20.7px;color:#ccccdc;white-space:nowrap;line-height:24px">kube-flannel-ds-8v82f</div>
<div class="a" style="left:1368px;top:1007.5px;width:23px;height:6.5px;border-radius:2px;background:#b84bb2"></div>
<div class="a" style="left:1408px;top:998.0px;font-size:20.7px;color:#ccccdc;white-space:nowrap;line-height:24px">kube-flannel-ds-qsn7x</div>
<div class="a" style="left:1365px;top:1032.2px;width:410px;height:33px;background:#222328"></div>
<div class="a" style="left:1368px;top:1051.2px;width:23px;height:6.5px;border-radius:2px;background:#7863ad"></div>
<div class="a" style="left:1408px;top:1041.8px;font-size:20.7px;color:#ccccdc;white-space:nowrap;line-height:24px">kube-proxy-2c6qw</div>
<div class="a" style="left:1782px;top:724px;width:2px;height:188px;background:#0c0d10"></div>
</body></html>
